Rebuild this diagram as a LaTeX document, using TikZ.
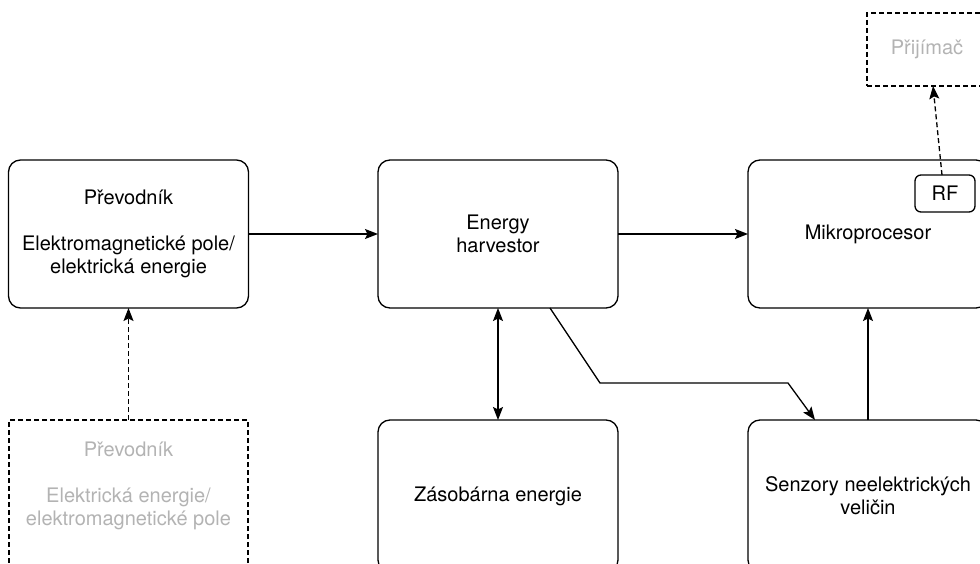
\documentclass[tikz,border=0pt]{standalone}
\usepackage{fontspec}
\setsansfont{TeX Gyre Heros}
\usetikzlibrary{arrows.meta,positioning}

\definecolor{ghostgray}{HTML}{B3B3B3}

\tikzset{
    block/.style={draw, rounded corners=12pt, minimum width=240pt, minimum height=148pt,
        align=center, inner sep=0pt, outer sep=0pt},
    ghost/.style={draw, dashline, minimum width=240pt, minimum height=148pt,
        align=center, inner sep=0pt, outer sep=0pt, text=ghostgray},
    dashline/.style={dash pattern=on 5pt off 3pt},
    link/.style={-{Stealth[length=13pt,width=10pt,inset=2.5pt]}},
    duallink/.style={{Stealth[length=13pt,width=10pt,inset=2.5pt]}-{Stealth[length=13pt,width=10pt,inset=2.5pt]}}
}

\begin{document}
\begin{tikzpicture}[x=1pt, y=-1pt, line width=1.3pt, font=\sffamily\fontsize{20}{23}\selectfont]
    \useasboundingbox (0,0) rectangle (980,564);
    \clip (0,0) rectangle (980,564);

    % top row
    \node [block] (conv) at (128.5,234) {Převodník\\[23pt]Elektromagnetické pole/\\elektrická energie};
    \node [block] (harv) at (498,234) {Energy\\harvestor};
    \node [block] (mcu) at (868,234) {Mikroprocesor};
    \node [draw, rounded corners=6pt, minimum width=60pt, minimum height=37pt, inner sep=0pt, outer sep=0pt] (rf) at (945,193.5) {RF};
    \node [ghost, minimum width=120pt, minimum height=73pt] (rx) at (927,49.5) {Přijímač};

    % bottom row
    \node [ghost, minimum width=239pt, minimum height=160pt] (conv2) at (128.5,500) {Převodník\\[23pt]Elektrická energie/\\elektromagnetické pole\\[9pt]\mbox{}};
    \node [block, minimum height=152pt] (store) at (498,496) {Zásobárna energie};
    \node [block, minimum height=152pt] (sens) at (868,496) {Senzory neelektrických\\veličin};

    % connectors
    \draw [link] (conv) -- (harv);
    \draw [link] (harv) -- (mcu);
    \draw [duallink] (harv) -- (store);
    \draw [link] ([xshift=52pt]harv.south) -- (600,383) -- (788,383) -- ([xshift=-53pt]sens.north);
    \draw [link] (sens) -- (mcu);
    \draw [link, dashline] (conv2) -- (conv);
    \draw [link, dashline] ([xshift=-3pt]rf.north) -- ([xshift=6pt]rx.south);
\end{tikzpicture}
\end{document}
